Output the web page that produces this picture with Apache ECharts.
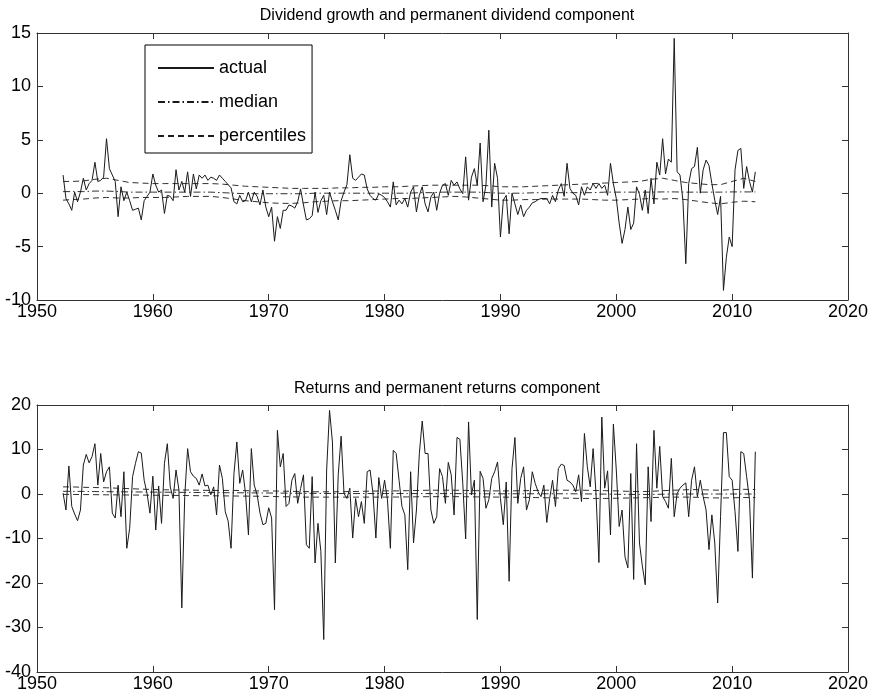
<!DOCTYPE html>
<html>
<head>
<meta charset="utf-8">
<script src="https://cdn.jsdelivr.net/npm/echarts@6/dist/echarts.min.js"></script>
<style>
  html, body { margin: 0; padding: 0; background: #fff; }
  #chart { width: 873px; height: 698px; }
</style>
</head>
<body>
<div id="chart"></div>
<script>
// Quarterly observations, first quarter plotted at 1952.25
const startYear = 1952.25;
const quarterStep = 0.25;

// Dividend growth (actual), quarterly
const dividendActual = [
  1.7, -0.5, -1.0, -1.6, 0.1, -0.8, 0.1, 1.4, 0.3, 0.9,
  1.2, 2.9, 1.1, 1.2, 1.5, 5.1, 2.3, 1.7, 1.1, -2.2,
  0.6, -0.7, 0.1, -0.7, -1.6, -1.5, -1.4, -2.5, -0.7, -0.3,
  0.1, 1.8, 0.75, 0.1, 0.3, -1.9, -0.2, -0.3, -0.7, 2.2,
  0.3, 1.1, 0.1, 2.0, -0.3, 1.8, 0.4, 1.7, 1.4, 1.7,
  1.2, 1.5, 1.4, 1.2, 1.7, 1.4, 1.1, 0.8, 0.5, -0.8,
  -1.0, -0.2, -0.8, -0.7, 0.1, -0.8, 0.1, -0.3, -1.1, 0.3,
  -1.3, -2.2, -1.3, -4.5, -2.2, -3.3, -1.6, -1.6, -1.1, -1.2,
  -1.4, -0.8, 0.4, -1.1, -2.5, -2.4, -2.1, 0.1, -1.8, -0.7,
  -0.2, -2.0, 0.1, -0.8, -1.6, -2.5, -0.7, 0.1, 0.8, 3.6,
  1.4, 1.2, 1.5, 1.8, 1.7, 0.4, -0.2, -0.5, -0.65, -0.05,
  -0.2, -0.4, -0.8, -1.3, 1.06, -1.1, -0.65, -1.0, -0.5, -1.3,
  0.1, 0.6, -1.75, -0.2, 0.6, -1.0, -1.75, -0.35, 0.1, -1.6,
  0.0, 0.75, 0.9, -0.2, 1.2, 0.75, 1.06, 0.4, -0.05, 3.4,
  -0.65, 1.5, 2.3, 0.75, 4.7, -0.8, 0.75, 5.9, -1.3, 2.8,
  1.4, -4.1, -0.65, -0.2, -3.8, 0.0, -1.0, -2.0, -1.1, -2.2,
  -1.6, -1.3, -0.9, -0.8, -0.6, -0.5, -0.5, -0.5, -1.0, -0.2,
  -0.8, 0.3, 0.9, -0.3, 2.8, 0.45, 0.0, -0.2, -1.1, 0.6,
  -0.2, 0.6, 0.3, 0.9, 0.45, 0.9, 0.45, 0.75, -0.2, 2.8,
  0.9, -0.5, -2.8, -4.7, -3.4, -1.3, -3.4, -2.8, 0.6, -0.1,
  -1.6, 0.3, -1.9, 1.4, -1.0, 2.9, 1.7, 5.1, 1.8, 3.2,
  2.9, 14.5, 2.0, 1.7, -0.65, -6.6, 0.9, 2.3, 2.5, 4.3,
  0.0, 2.2, 3.1, 2.6, 0.9, -0.65, -2.0, -0.3, -9.1, -6.0,
  -4.1, -5.0, 2.2, 4.0, 4.2, 0.45, 2.5, 1.1, 0.1, 2.0
];

// Returns (actual), quarterly
const returnsActual = [
  0.2, -3.6, 6.3, -2.8, -4.5, -6.0, -3.6, 6.5, 8.9, 7.0,
  8.4, 11.3, 2.0, 9.1, 2.7, 5.0, 6.1, -4.3, -5.4, 2.0,
  -5.1, 5.0, -12.2, -7.7, 3.9, 6.9, 9.5, 9.2, 3.1, 0.1,
  -4.3, 4.0, -8.1, 1.8, -6.6, 6.9, 11.3, 1.6, -1.0, 5.4,
  0.9, -25.6, -0.6, 10.2, 5.0, 4.0, 3.5, 2.0, 4.5, 1.8,
  2.0, -0.2, 1.6, -4.7, 6.5, 3.5, -4.0, -6.1, -12.2, 4.6,
  11.7, 2.4, 5.4, 0.1, -9.2, 10.2, 2.0, -0.2, -4.3, -6.9,
  -6.6, -3.1, -5.4, -26.0, 14.3, 6.1, 9.1, -2.8, -2.1, 3.1,
  4.6, -2.1, 1.2, 4.3, -11.4, -12.2, 3.9, -15.5, -6.6, -12.9,
  -32.7, 5.4, 18.8, 11.7, -15.5, 4.3, 13.0, 0.1, -1.0, 1.3,
  -9.9, -1.0, -5.1, -1.7, -6.6, 5.0, 5.4, 0.1, -9.9, 3.7,
  -1.0, 3.1, -1.3, -12.2, 9.8, 9.1, 3.1, -2.8, -4.7, -17.0,
  5.0, -11.0, -3.6, 9.1, 16.4, 9.1, 9.1, -3.6, -6.6, -5.1,
  5.7, 3.9, -2.1, 7.1, 4.3, -4.7, 12.7, 12.3, 2.4, -10.1,
  16.2, -0.2, 3.1, -28.2, 5.1, 3.5, -3.2, -1.3, 3.5, 5.0,
  7.2, -1.0, -6.9, 2.7, -19.6, 5.7, 12.7, -2.1, 3.5, 6.1,
  -3.6, -1.3, 5.0, 2.4, 0.5, -0.6, 2.0, -6.4, -1.0, 3.1,
  -2.8, 5.7, 6.7, 6.4, 3.1, 2.7, 2.0, 0.5, 4.3, -1.7,
  13.6, 6.1, 1.6, 10.2, 0.1, -15.4, 17.3, 1.3, 5.2, -9.2,
  15.7, 5.4, -7.3, -3.6, -14.1, -16.6, 4.6, -19.2, 11.3, -11.0,
  -16.2, -20.4, 6.1, -6.2, 14.3, 1.3, 10.7, -0.6, -1.7, -3.2,
  8.0, -5.1, 0.1, 1.3, 2.0, 2.5, -5.1, 3.1, 6.1, -0.6,
  3.1, -0.6, -3.6, -12.5, -4.7, -11.0, -24.5, -5.0, 13.8, 13.8,
  3.9, 3.1, -4.0, -12.9, 9.5, 9.1, 3.9, -1.3, -18.9, 9.5
];

// Permanent components, one value per year 1952..2012
const dividendUpper = [
  1.1, 1.1, 1.15, 1.3, 1.4, 1.2, 1.0, 0.95, 0.9, 0.9,
  0.9, 0.9, 0.9, 0.9, 0.85, 0.75, 0.65, 0.6, 0.55, 0.5,
  0.45, 0.45, 0.45, 0.45, 0.5, 0.5, 0.55, 0.55, 0.6, 0.6,
  0.65, 0.7, 0.75, 0.75, 0.75, 0.75, 0.75, 0.7, 0.6, 0.6,
  0.6, 0.65, 0.7, 0.75, 0.8, 0.85, 0.9, 0.95, 1.0, 1.05,
  1.1, 1.3, 1.4, 1.2, 1.0, 0.9, 0.8, 0.8, 1.1, 1.4, 1.1
];
const dividendMedian = [
  0.15, 0.15, 0.15, 0.2, 0.2, 0.15, 0.1, 0.1, 0.1, 0.1,
  0.1, 0.1, 0.1, 0.1, 0.05, 0.0, -0.05, -0.05, -0.05, -0.05,
  -0.05, -0.05, 0.0, 0.0, 0.0, 0.0, 0.0, 0.0, 0.0, 0.0,
  0.0, 0.05, 0.05, 0.1, 0.1, 0.1, 0.1, 0.05, 0.0, 0.0,
  0.0, 0.05, 0.05, 0.05, 0.05, 0.05, 0.05, 0.1, 0.1, 0.1,
  0.1, 0.1, 0.12, 0.12, 0.1, 0.1, 0.1, 0.1, 0.12, 0.12, 0.12
];
const dividendLower = [
  -0.65, -0.6, -0.55, -0.45, -0.4, -0.45, -0.45, -0.4, -0.4, -0.4,
  -0.35, -0.3, -0.3, -0.3, -0.4, -0.55, -0.7, -0.8, -0.9, -0.95,
  -0.95, -0.9, -0.8, -0.75, -0.7, -0.7, -0.65, -0.6, -0.55, -0.5,
  -0.5, -0.45, -0.4, -0.35, -0.3, -0.35, -0.45, -0.55, -0.65, -0.65,
  -0.6, -0.6, -0.55, -0.55, -0.55, -0.55, -0.6, -0.65, -0.65, -0.6,
  -0.55, -0.5, -0.55, -0.5, -0.6, -0.75, -0.9, -1.0, -0.85, -0.75, -0.8
];
const returnsUpper = [
  1.6, 1.6, 1.5, 1.45, 1.4, 1.3, 1.2, 1.1, 1.0, 0.95,
  0.9, 0.9, 0.85, 0.8, 0.8, 0.8, 0.75, 0.7, 0.7, 0.65,
  0.6, 0.55, 0.5, 0.5, 0.5, 0.55, 0.6, 0.65, 0.7, 0.7,
  0.75, 0.8, 0.85, 0.85, 0.85, 0.8, 0.75, 0.7, 0.7, 0.7,
  0.75, 0.8, 0.85, 0.85, 0.85, 0.85, 0.8, 0.75, 0.7, 0.6,
  0.55, 0.6, 0.75, 0.85, 0.95, 1.0, 0.9, 0.85, 1.0, 1.05, 1.0
];
const returnsMedian = [
  0.6, 0.6, 0.58, 0.55, 0.52, 0.5, 0.48, 0.45, 0.42, 0.4,
  0.38, 0.36, 0.34, 0.32, 0.3, 0.28, 0.26, 0.24, 0.22, 0.2,
  0.18, 0.16, 0.14, 0.12, 0.1, 0.1, 0.1, 0.1, 0.1, 0.1,
  0.1, 0.1, 0.1, 0.1, 0.1, 0.08, 0.06, 0.05, 0.05, 0.05,
  0.05, 0.05, 0.05, 0.05, 0.05, 0.03, 0.0, -0.02, -0.05, -0.1,
  -0.1, -0.1, -0.05, 0.0, 0.0, 0.0, 0.0, 0.0, 0.0, 0.0, 0.0
];
const returnsLower = [
  -0.1, -0.1, -0.12, -0.15, -0.18, -0.2, -0.22, -0.25, -0.28, -0.3,
  -0.32, -0.35, -0.38, -0.4, -0.42, -0.45, -0.48, -0.5, -0.55, -0.6,
  -0.65, -0.7, -0.7, -0.7, -0.7, -0.7, -0.7, -0.7, -0.7, -0.68,
  -0.65, -0.62, -0.6, -0.6, -0.6, -0.62, -0.65, -0.68, -0.7, -0.72,
  -0.75, -0.8, -0.85, -0.9, -0.95, -1.0, -1.0, -1.0, -0.95, -0.9,
  -0.85, -0.8, -0.75, -0.7, -0.7, -0.75, -0.85, -0.9, -0.85, -0.8, -0.8
];

// Axis ticks
const xTicks = [1950, 1960, 1970, 1980, 1990, 2000, 2010, 2020];
const topTicks = [-10, -5, 0, 5, 10, 15];
const bottomTicks = [-40, -30, -20, -10, 0, 10, 20];

const titles = [
  'Dividend growth and permanent dividend component',
  'Returns and permanent returns component'
];
const legendNames = ['actual', 'median', 'percentiles'];

const quarterly = vals => vals.map((v, i) => [startYear + i * quarterStep, v]);
const yearly = vals => vals.map((v, k) => [Math.min(Math.max(1952 + k, startYear), 2012), v]);

const FONT = 'Liberation Sans, Arial, Helvetica, sans-serif';
const INK = '#1a1a1a';
const AXIS = '#333';
const dashDot = [7, 3, 1.5, 3];
const dashed = [6, 4];

function xAxisPair(gridIndex) {
  const common = {
    type: 'value', gridIndex,
    min: xTicks[0], max: xTicks[xTicks.length - 1], interval: 10,
    axisLine: { onZero: false, lineStyle: { color: AXIS, width: 1 } },
    axisTick: { inside: true, length: 6, lineStyle: { color: AXIS } },
    splitLine: { show: false }
  };
  return [
    Object.assign({}, common, {
      position: 'bottom',
      axisLabel: { color: '#000', fontSize: 18, fontFamily: FONT, margin: 3,
        formatter: v => String(v) }
    }),
    Object.assign({}, common, { position: 'top', axisLabel: { show: false } })
  ];
}

function yAxisPair(gridIndex, ticks) {
  const common = {
    type: 'value', gridIndex,
    min: ticks[0], max: ticks[ticks.length - 1], interval: ticks[1] - ticks[0],
    axisLine: { show: true, onZero: false, lineStyle: { color: AXIS, width: 1 } },
    axisTick: { show: true, inside: true, length: 6, lineStyle: { color: AXIS } },
    splitLine: { show: false }
  };
  return [
    Object.assign({}, common, {
      position: 'left',
      axisLabel: { color: '#000', fontSize: 18, fontFamily: FONT, margin: 6,
        formatter: v => String(v) }
    }),
    Object.assign({}, common, { position: 'right', axisLabel: { show: false } })
  ];
}

function panelSeries(axisIdx, actual, med, up, low) {
  const base = {
    type: 'line', xAxisIndex: axisIdx, yAxisIndex: axisIdx,
    symbol: 'none', silent: true, animation: false,
    itemStyle: { color: INK }
  };
  return [
    Object.assign({}, base, { name: legendNames[2], data: yearly(up), z: 2,
      lineStyle: { color: INK, width: 0.9, type: dashed } }),
    Object.assign({}, base, { name: legendNames[2], data: yearly(low), z: 2,
      lineStyle: { color: INK, width: 0.9, type: dashed } }),
    Object.assign({}, base, { name: legendNames[1], data: yearly(med), z: 2,
      lineStyle: { color: INK, width: 0.9, type: dashDot } }),
    Object.assign({}, base, { name: legendNames[0], data: quarterly(actual), z: 3,
      lineStyle: { color: INK, width: 1 } })
  ];
}

const chart = echarts.init(document.getElementById('chart'), null, { renderer: 'canvas' });

chart.setOption({
  animation: false,
  backgroundColor: '#fff',
  title: [
    { text: titles[0], left: 442, top: 3, textAlign: 'center',
      textStyle: { fontSize: 16, fontWeight: 'normal', color: '#000', fontFamily: FONT } },
    { text: titles[1], left: 442, top: 376, textAlign: 'center',
      textStyle: { fontSize: 16, fontWeight: 'normal', color: '#000', fontFamily: FONT } }
  ],
  grid: [
    { left: 37, right: 25, top: 33, height: 267 },
    { left: 37, right: 25, top: 405, height: 267 }
  ],
  xAxis: [...xAxisPair(0), ...xAxisPair(1)],
  yAxis: [...yAxisPair(0, topTicks), ...yAxisPair(1, bottomTicks)],
  legend: {
    data: legendNames,
    orient: 'vertical',
    left: 145, top: 45,
    itemWidth: 56, itemHeight: 18, itemGap: 16,
    padding: [14, 6, 8, 12],
    borderColor: '#000', borderWidth: 1,
    backgroundColor: '#fff',
    selectedMode: false,
    itemStyle: { opacity: 0 },
    textStyle: { fontSize: 18, color: '#000', fontFamily: FONT }
  },
  series: [
    ...panelSeries(0, dividendActual, dividendMedian, dividendUpper, dividendLower),
    ...panelSeries(2, returnsActual, returnsMedian, returnsUpper, returnsLower)
  ]
});
</script>
</body>
</html>
